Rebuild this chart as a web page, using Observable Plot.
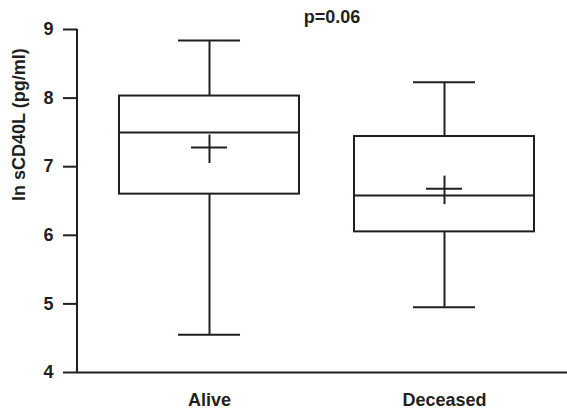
<!DOCTYPE html>
<html>
<head>
<meta charset="utf-8">
<script src="https://cdn.jsdelivr.net/npm/d3@7"></script>
<script src="https://cdn.jsdelivr.net/npm/@observablehq/plot@0.6"></script>
<style>
  html, body { margin: 0; padding: 0; background: #fff; }
  #chart { width: 567px; height: 409px; }
</style>
</head>
<body>
<div id="chart"></div>
<script>
// ---- data ----
const groups = ["Alive", "Deceased"];
const whiskerLow = [4.55, 4.95];
const q1 = [6.60, 6.05];
const median = [7.50, 6.58];
const q3 = [8.03, 7.44];
const whiskerHigh = [8.84, 8.23];
const mean = [7.28, 6.68];
const yTicks = [4, 5, 6, 7, 8, 9];
const title = "p=0.06";
const yLabel = "ln sCD40L (pg/ml)";

const data = groups.map((g, i) => ({
  group: g, lo: whiskerLow[i], q1: q1[i], med: median[i],
  q3: q3[i], hi: whiskerHigh[i], mean: mean[i]
}));

const ink = "#231f20";
const sw = 2;
const font = "'Liberation Sans', Arial, Helvetica, sans-serif";

const plot = Plot.plot({
  width: 567,
  height: 409,
  marginLeft: 77,
  marginRight: 0,
  marginTop: 29,
  marginBottom: 37,
  style: { fontFamily: font, fontSize: "18px", fontWeight: "bold", color: ink, background: "#fff", overflow: "visible" },
  x: { type: "band", domain: groups, range: [119, 535], paddingInner: 0.2335, paddingOuter: 0, align: 0.5, label: null },
  y: { domain: [4, 9], label: null },
  marks: [
    // axes
    Plot.axisY({ ticks: yTicks, tickFormat: d => String(d), tickSize: 14, tickPadding: 10, strokeWidth: sw, stroke: ink, fill: ink, fontSize: 18, fontWeight: "bold", label: null }),
    Plot.axisX({ tickSize: 0, tickPadding: 21, fill: ink, fontSize: 18, fontWeight: "bold", label: null }),
    Plot.ruleY([yTicks[0]], { stroke: ink, strokeWidth: sw }),
    (index, scales, values, dims) => {
      const l = d3.create("svg:line")
        .attr("x1", dims.marginLeft).attr("x2", dims.marginLeft)
        .attr("y1", scales.y(yTicks[yTicks.length - 1])).attr("y2", scales.y(yTicks[0]) + 1)
        .attr("stroke", ink).attr("stroke-width", sw);
      return l.node();
    },
    // whiskers
    Plot.ruleX(data, { x: "group", y1: "q3", y2: "hi", stroke: ink, strokeWidth: sw }),
    Plot.ruleX(data, { x: "group", y1: "lo", y2: "q1", stroke: ink, strokeWidth: sw }),
    Plot.tickY(data, { x: "group", y: "hi", insetLeft: 59, insetRight: 59, stroke: ink, strokeWidth: sw }),
    Plot.tickY(data, { x: "group", y: "lo", insetLeft: 59, insetRight: 59, stroke: ink, strokeWidth: sw }),
    // boxes
    Plot.barY(data, { x: "group", y1: "q1", y2: "q3", fill: "none", stroke: ink, strokeWidth: sw }),
    Plot.tickY(data, { x: "group", y: "med", stroke: ink, strokeWidth: sw }),
    // means (+)
    Plot.tickY(data, { x: "group", y: "mean", insetLeft: 72, insetRight: 72, stroke: ink, strokeWidth: sw }),
    Plot.ruleX(data, { x: "group", y1: "mean", y2: "mean", insetTop: -12.5, insetBottom: -16, stroke: ink, strokeWidth: sw }),
    // texts
    Plot.text([title], { frameAnchor: "top", lineAnchor: "bottom", dx: 9.5, dy: -7, fontSize: 18, fontWeight: "bold", fill: ink }),
    Plot.text([yLabel], { frameAnchor: "left", rotate: -90, dx: -58, fontSize: 18, fontWeight: "bold", fill: ink })
  ]
});
document.getElementById("chart").appendChild(plot);
</script>
</body>
</html>
